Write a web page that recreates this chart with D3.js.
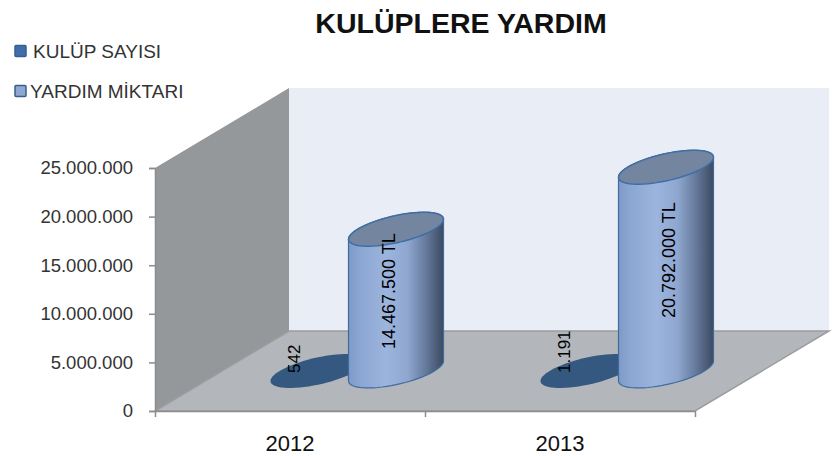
<!DOCTYPE html>
<html>
<head>
<meta charset="utf-8">
<style>
  html, body { margin: 0; padding: 0; background: white; }
  text { font-family: "Liberation Sans", Arial, sans-serif; }
</style>
</head>
<body>
<div class="board"></div>
<script src="https://cdn.jsdelivr.net/npm/d3@7"></script>
<script>
const years = ["2012", "2013"]
const seriesNames = ["KULÜP SAYISI", "YARDIM MİKTARI"]
const kulupSayisi = [542, 1191]
const yardimMiktari = [14467500, 20792000]
const kulupLabels = ["542", "1.191"]
const yardimLabels = ["14.467.500 TL", "20.792.000 TL"]
const yTicks = [0, 5000000, 10000000, 15000000, 20000000, 25000000]

const width = 834, height = 456

// plot box, front edge of the floor plus the 3d depth offset
const left = 155, right = 695, bottom = 411, top25 = 168
const depthX = 134, depthY = 80
const radiusX = 47.5, tiltY = 10, radiusY = 13.7

let svg = d3.select(".board")
    .append("svg")
    .attr("width", width)
    .attr("height", height)
    .style("display", "block")

let x = d3.scaleBand().domain(years).range([left, right])
let y = d3.scaleLinear().domain([0, 25000000]).range([bottom, top25])

// series sit side by side inside a year, in the middle of the depth
let seriesX = d3.scaleBand().domain(seriesNames).range([-78, 78])

// column heights are drawn a bit taller than the wall scale, like the 3d projection does
let columnY = d3.scaleLinear().domain([0, 25000000]).range([bottom - depthY / 2, bottom - depthY / 2 - 245])

let line = d3.line()

function wall(pts, fill) {
    return svg.append("path")
        .attr("d", line(pts) + "Z")
        .attr("fill", fill)
}

// left wall, back wall, floor
let defs = svg.append("defs")
let sideGrad = defs.append("linearGradient").attr("id", "columnSide")
sideGrad.selectAll("stop")
    .data([[0, "#7e9ac6"], [0.12, "#8ba6d2"], [0.4, "#9cb5de"], [0.62, "#8fa7cf"], [0.82, "#64789a"], [1, "#3c4a60"]])
    .enter()
    .append("stop")
    .attr("offset", d => d[0])
    .attr("stop-color", d => d[1])

wall([[left + depthX, y(25000000) - depthY], [left + depthX + (right - left), y(25000000) - depthY],
      [left + depthX + (right - left), bottom - depthY], [left + depthX, bottom - depthY]], "#e9edf6")
wall([[left, y(25000000)], [left + depthX, y(25000000) - depthY], [left + depthX, bottom - depthY], [left, bottom]], "#95989b")
wall([[left, bottom], [left + depthX, bottom - depthY], [right + depthX, bottom - depthY], [right, bottom]], "#b3b6ba")
    .attr("stroke", "#9a9c9f")
    .attr("stroke-width", 1.5)

// axes
let fmt = d3.formatLocale({ decimal: ",", thousands: ".", grouping: [3], currency: ["", ""] }).format(",d")

let yAxis = svg.append("g")
    .attr("transform", `translate(${left},0)`)
    .call(d3.axisLeft(y).tickValues(yTicks).tickFormat(fmt).tickSize(6).tickPadding(16))
yAxis.selectAll("text").attr("font-size", 18.5).attr("fill", "#333").attr("font-family", "Liberation Sans")
yAxis.selectAll("line,path").attr("stroke", "#8c8c8c").attr("stroke-width", 1.5)

let xEdges = d3.scaleLinear().domain([0, years.length]).range([left, right])
let xAxis = svg.append("g")
    .attr("transform", `translate(0,${bottom})`)
    .call(d3.axisBottom(xEdges).tickValues(d3.range(0, years.length + 1)).tickFormat("").tickSize(6).tickSizeOuter(0))
xAxis.selectAll("line,path").attr("stroke", "#8c8c8c").attr("stroke-width", 1.5)

svg.selectAll(".year")
    .data(years)
    .enter()
    .append("text")
    .attr("class", "year")
    .attr("x", d => x(d) + x.bandwidth() / 2)
    .attr("y", 451)
    .attr("text-anchor", "middle")
    .attr("font-size", 22)
    .attr("fill", "#111")
    .text(d => d)

function centerX(year, series) {
    return x(year) + x.bandwidth() / 2 + depthX / 2 + seriesX(series) + seriesX.bandwidth() / 2
}

// a point on the slanted ellipse, t in radians
function rim(cx, cy, t) {
    return [cx + radiusX * Math.cos(t), cy - tiltY * Math.cos(t) + radiusY * Math.sin(t)]
}

function ellipsePath(cx, cy) {
    return line(d3.range(0, 64).map(i => rim(cx, cy, i / 64 * 2 * Math.PI))) + "Z"
}

function bodyPath(cx, y0, y1) {
    let lower = d3.range(0, 33).map(i => rim(cx, y0, i / 32 * Math.PI))
    let upper = d3.range(0, 33).map(i => rim(cx, y1, Math.PI + i / 32 * Math.PI))
    return line(lower.concat(upper)) + "Z"
}

// short columns first so the tall ones cover them
svg.selectAll(".kulup")
    .data(years)
    .enter()
    .append("path")
    .attr("class", "kulup")
    .attr("d", (d, i) => ellipsePath(centerX(d, seriesNames[0]), columnY(kulupSayisi[i])))
    .attr("fill", "#34587f")

svg.selectAll(".kulupLabel")
    .data(years)
    .enter()
    .append("text")
    .attr("class", "kulupLabel")
    .attr("transform", d => `translate(${centerX(d, seriesNames[0]) - 18},373) rotate(-90)`)
    .attr("font-size", 17)
    .attr("fill", "#000")
    .text((d, i) => kulupLabels[i])

let columns = svg.selectAll(".yardim")
    .data(years)
    .enter()
    .append("g")
    .attr("class", "yardim")

columns.append("path")
    .attr("d", (d, i) => bodyPath(centerX(d, seriesNames[1]), columnY(0), columnY(yardimMiktari[i])))
    .attr("fill", "url(#columnSide)")
    .attr("stroke", "#3f6b9f")
    .attr("stroke-width", 1.2)

columns.append("path")
    .attr("d", (d, i) => ellipsePath(centerX(d, seriesNames[1]), columnY(yardimMiktari[i])))
    .attr("fill", "#74859f")
    .attr("stroke", "#3f6ea6")
    .attr("stroke-width", 1.5)

let labelShift = [-1, 9]
columns.append("text")
    .attr("transform", (d, i) => {
        let px = centerX(d, seriesNames[1]) + labelShift[i]
        let py = (columnY(0) + columnY(yardimMiktari[i])) / 2 - 9
        return `translate(${px},${py}) rotate(-90)`
    })
    .attr("text-anchor", "middle")
    .attr("font-size", 18)
    .attr("fill", "#000")
    .text((d, i) => yardimLabels[i])

// title and legend
svg.append("text")
    .attr("x", 461)
    .attr("y", 33)
    .attr("text-anchor", "middle")
    .attr("font-size", 28.5)
    .attr("font-weight", "bold")
    .attr("fill", "#111")
    .text("KULÜPLERE YARDIM")

let legendFill = ["#3f6fa8", "#8fa7d1"]
let legendY = d3.scalePoint().domain(seriesNames).range([51, 91])
let legendTextX = [33, 30]

svg.selectAll(".swatch")
    .data(seriesNames)
    .enter()
    .append("rect")
    .attr("class", "swatch")
    .attr("x", 15)
    .attr("y", d => legendY(d) - 5.5)
    .attr("width", 11)
    .attr("height", 11)
    .attr("rx", 1)
    .attr("fill", (d, i) => legendFill[i])
    .attr("stroke", "#33608f")
    .attr("stroke-width", 1.5)

svg.selectAll(".legendText")
    .data(seriesNames)
    .enter()
    .append("text")
    .attr("class", "legendText")
    .attr("x", (d, i) => legendTextX[i])
    .attr("y", d => legendY(d) + 6.5)
    .attr("font-size", 19)
    .attr("fill", "#333")
    .text(d => d)
</script>
</body>
</html>
